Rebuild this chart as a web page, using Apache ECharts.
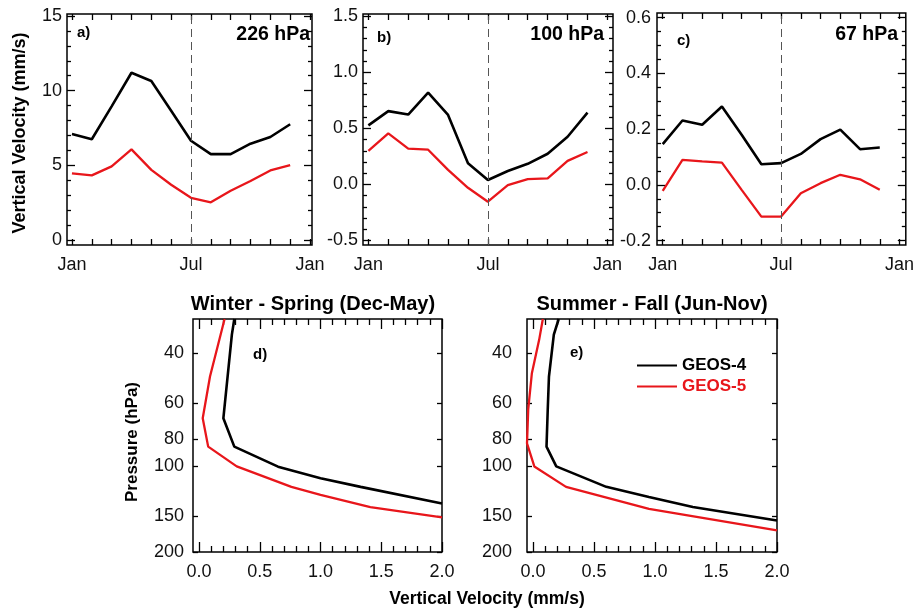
<!DOCTYPE html>
<html>
<head>
<meta charset="utf-8">
<script src="https://cdn.jsdelivr.net/npm/echarts@6/dist/echarts.min.js"></script>
<style>
  html, body { margin: 0; padding: 0; background: #fff; }
  #chart { width: 917px; height: 608px; }
</style>
</head>
<body>
<div id="chart"></div>
<script>
// ---- Monthly vertical velocity (mm/s), Jan..Dec ----
const months = ['Jan','Feb','Mar','Apr','May','Jun','Jul','Aug','Sep','Oct','Nov','Dec'];
const monthLabelPos = [0, 6, 12];
const monthLabels = ['Jan', 'Jul', 'Jan'];

const geos4_226 = [7.1, 6.75, 8.95, 11.2, 10.65, 8.65, 6.65, 5.75, 5.75, 6.45, 6.9, 7.75];
const geos5_226 = [4.47, 4.33, 4.93, 6.07, 4.7, 3.7, 2.83, 2.53, 3.3, 3.95, 4.66, 5.02];

const geos4_100 = [0.527, 0.654, 0.623, 0.819, 0.62, 0.19, 0.04, 0.12, 0.184, 0.274, 0.425, 0.64];
const geos5_100 = [0.30, 0.455, 0.32, 0.31, 0.13, -0.03, -0.154, -0.006, 0.048, 0.054, 0.21, 0.29];

const geos4_67 = [0.146, 0.231, 0.216, 0.281, 0.18, 0.074, 0.078, 0.111, 0.164, 0.198, 0.128, 0.134];
const geos5_67 = [-0.022, 0.09, 0.084, 0.08, -0.018, -0.114, -0.114, -0.03, 0.006, 0.036, 0.02, -0.018];

// ---- Seasonal vertical velocity profiles: pressure (hPa) and velocity (mm/s) ----
const winterG4Pres = [30.3, 34.4, 67.7, 85.2, 100.2, 110, 118, 135];
const winterG4Vel  = [0.29, 0.27, 0.20, 0.29, 0.65, 1.0, 1.33, 2.0];
const winterG5Pres = [30.3, 36.8, 48.3, 67.7, 85.2, 100, 118, 126, 139, 151];
const winterG5Vel  = [0.21, 0.16, 0.09, 0.03, 0.075, 0.31, 0.76, 1.0, 1.41, 2.0];

const summerG4Pres = [30.3, 34.4, 48.3, 63.2, 85.2, 100, 118, 128, 139, 155];
const summerG4Vel  = [0.21, 0.17, 0.13, 0.12, 0.11, 0.19, 0.60, 0.95, 1.31, 2.0];
const summerG5Pres = [30.3, 35.8, 47, 63, 83, 100, 118, 141, 168];
const summerG5Vel  = [0.08, 0.05, -0.01, -0.04, -0.05, 0.01, 0.27, 0.95, 2.0];

const pressureTicks = [40, 60, 80, 100, 150, 200];
const velocityTicks = [0, 0.5, 1.0, 1.5, 2.0];

const FONT = "'Liberation Sans', Arial, Helvetica, sans-serif";
const BLACK = '#000000';
const RED = '#e8161b';

function steps(lo, hi, step, skip) {
  const out = [];
  for (let v = lo; v <= hi + 1e-9; v += step) {
    const r = Math.round(v * 1000) / 1000;
    if (!skip || skip.indexOf(r) < 0) out.push(r);
  }
  return out;
}

function tickAxis(grid, pos, type, min, max, ticks, len, extra) {
  return Object.assign({
    type: type, gridIndex: grid, position: pos, min: min, max: max,
    axisLine: { show: false, onZero: false },
    splitLine: { show: false },
    axisTick: { show: true, inside: true, length: len, customValues: ticks,
                lineStyle: { color: '#000', width: 1.3 } },
    axisLabel: { show: false }
  }, extra || {});
}

const grids = [];
const xAxes = [];
const yAxes = [];
const series = [];

// ---- top row: monthly time series ----
const monthPanels = [
  { grid: { left: 67, top: 14, width: 245, height: 231 }, xmin: -0.25, xmax: 12.1,
    ymin: -0.33, ymax: 15.13, majors: [0, 5, 10, 15], minorStep: 1, digits: 0,
    g4: geos4_226, g5: geos5_226, margin: 5 },
  { grid: { left: 363, top: 14, width: 250, height: 231 }, xmin: -0.27, xmax: 12.28,
    ymin: -0.54, ymax: 1.52, majors: [-0.5, 0, 0.5, 1.0, 1.5], minorStep: 0.1, digits: 1,
    g4: geos4_100, g5: geos5_100, margin: 5 },
  { grid: { left: 657, top: 13, width: 250, height: 232 }, xmin: -0.29, xmax: 12.32,
    ymin: -0.216, ymax: 0.617, majors: [-0.2, 0, 0.2, 0.4, 0.6], minorStep: 0.05, digits: 1,
    g4: geos4_67, g5: geos5_67, margin: 6 }
];

const monthTicks = months.map((m, i) => i).concat([12]);

monthPanels.forEach(function (p) {
  const g = grids.length;
  grids.push(Object.assign({ show: true, borderColor: '#000', borderWidth: 1.5,
                             backgroundColor: 'transparent' }, p.grid));
  const xi = xAxes.length;
  xAxes.push(tickAxis(g, 'bottom', 'value', p.xmin, p.xmax, monthTicks, 6, {
    axisLabel: { show: true, customValues: monthLabelPos, margin: 11,
                 fontSize: 18, fontFamily: FONT, color: '#111',
                 formatter: v => monthLabels[monthLabelPos.indexOf(Math.round(v))] }
  }));
  xAxes.push(tickAxis(g, 'top', 'value', p.xmin, p.xmax, monthTicks, 6));
  const minors = steps(p.majors[0], p.majors[p.majors.length - 1], p.minorStep, p.majors);
  const yi = yAxes.length;
  yAxes.push(tickAxis(g, 'left', 'value', p.ymin, p.ymax, p.majors, 8, {
    axisLabel: { show: true, customValues: p.majors, margin: p.margin,
                 fontSize: 18, fontFamily: FONT, color: '#111',
                 formatter: v => Number(v).toFixed(p.digits) }
  }));
  yAxes.push(tickAxis(g, 'left', 'value', p.ymin, p.ymax, minors, 4));
  yAxes.push(tickAxis(g, 'right', 'value', p.ymin, p.ymax, p.majors, 8));
  yAxes.push(tickAxis(g, 'right', 'value', p.ymin, p.ymax, minors, 4));

  series.push({
    name: 'GEOS-4', type: 'line', xAxisIndex: xi, yAxisIndex: yi,
    data: p.g4.map((v, i) => [i, v]), symbol: 'none',
    lineStyle: { color: BLACK, width: 2.6 }, itemStyle: { color: BLACK },
    markLine: {
      silent: true, symbol: ['none', 'none'], label: { show: false },
      lineStyle: { color: '#555', width: 1, type: [8, 5] },
      data: [{ xAxis: 6 }]
    }
  });
  series.push({
    name: 'GEOS-5', type: 'line', xAxisIndex: xi, yAxisIndex: yi,
    data: p.g5.map((v, i) => [i, v]), symbol: 'none',
    lineStyle: { color: RED, width: 2.3 }, itemStyle: { color: RED }
  });
});

// ---- bottom row: seasonal profiles on a log pressure axis ----
const profilePanels = [
  { grid: { left: 193, top: 319, width: 249, height: 233 },
    g4: [winterG4Vel, winterG4Pres], g5: [winterG5Vel, winterG5Pres], margin: 9 },
  { grid: { left: 527, top: 319, width: 250, height: 233 },
    g4: [summerG4Vel, summerG4Pres], g5: [summerG5Vel, summerG5Pres], margin: 15 }
];

const velMinors = steps(0, 2.0, 0.1, velocityTicks);

profilePanels.forEach(function (p) {
  const g = grids.length;
  grids.push(Object.assign({ show: true, borderColor: '#000', borderWidth: 1.5,
                             backgroundColor: 'transparent' }, p.grid));
  const xi = xAxes.length;
  xAxes.push(tickAxis(g, 'bottom', 'value', -0.05, 2.0, velocityTicks, 10, {
    axisLabel: { show: true, customValues: velocityTicks, margin: 11,
                 fontSize: 18, fontFamily: FONT, color: '#111',
                 formatter: v => Number(v).toFixed(1) }
  }));
  xAxes.push(tickAxis(g, 'bottom', 'value', -0.05, 2.0, velMinors, 6));
  xAxes.push(tickAxis(g, 'top', 'value', -0.05, 2.0, velocityTicks, 10));
  xAxes.push(tickAxis(g, 'top', 'value', -0.05, 2.0, velMinors, 6));
  const yi = yAxes.length;
  yAxes.push(tickAxis(g, 'left', 'log', 30.3, 200, pressureTicks, 5, {
    logBase: 10, inverse: true,
    axisLabel: { show: true, customValues: pressureTicks, margin: p.margin,
                 fontSize: 18, fontFamily: FONT, color: '#111',
                 formatter: v => String(Math.round(v)) }
  }));
  yAxes.push(tickAxis(g, 'right', 'log', 30.3, 200, pressureTicks, 5, {
    logBase: 10, inverse: true
  }));

  series.push({
    name: 'GEOS-4', type: 'line', xAxisIndex: xi, yAxisIndex: yi,
    data: p.g4[1].map((pr, i) => [p.g4[0][i], pr]), symbol: 'none',
    lineStyle: { color: BLACK, width: 2.6 }, itemStyle: { color: BLACK }
  });
  series.push({
    name: 'GEOS-5', type: 'line', xAxisIndex: xi, yAxisIndex: yi,
    data: p.g5[1].map((pr, i) => [p.g5[0][i], pr]), symbol: 'none',
    lineStyle: { color: RED, width: 2.3 }, itemStyle: { color: RED }
  });
});

function label(text, x, y, size, align, extra) {
  return Object.assign({
    type: 'text', x: x, y: y, silent: true,
    style: { text: text, fontSize: size, fontWeight: 'bold', fontFamily: FONT,
             fill: '#000', align: align || 'left', verticalAlign: 'middle' }
  }, extra || {});
}

const graphics = [
  label('Vertical Velocity (mm/s)', 20, 133, 18, 'center', { rotation: Math.PI / 2 }),
  label('a)', 77, 33, 15),
  label('b)', 377, 38, 15),
  label('c)', 677, 41, 15),
  label('226 hPa', 310, 35, 19.5, 'right'),
  label('100 hPa', 604, 35, 19.5, 'right'),
  label('67 hPa', 898, 35, 19.5, 'right'),
  label('Winter - Spring (Dec-May)', 313, 304, 20, 'center'),
  label('Summer - Fall (Jun-Nov)', 652, 304, 20, 'center'),
  label('d)', 253, 355, 15),
  label('e)', 570, 353, 15),
  label('Pressure (hPa)', 132, 442, 17, 'center', { rotation: Math.PI / 2 }),
  label('Vertical Velocity (mm/s)', 487, 599, 17.5, 'center')
];

const chart = echarts.init(document.getElementById('chart'), null, { renderer: 'canvas' });
chart.setOption({
  animation: false,
  backgroundColor: '#fff',
  grid: grids,
  xAxis: xAxes,
  yAxis: yAxes,
  series: series,
  legend: {
    orient: 'vertical', left: 632, top: 352,
    itemWidth: 40, itemHeight: 16, itemGap: 4,
    icon: 'path://M0,7 L40,7 L40,9.2 L0,9.2 Z',
    textStyle: { fontSize: 17, fontWeight: 'bold', fontFamily: FONT },
    data: [
      { name: 'GEOS-4', textStyle: { color: BLACK } },
      { name: 'GEOS-5', textStyle: { color: RED } }
    ]
  },
  graphic: graphics
});
</script>
</body>
</html>
